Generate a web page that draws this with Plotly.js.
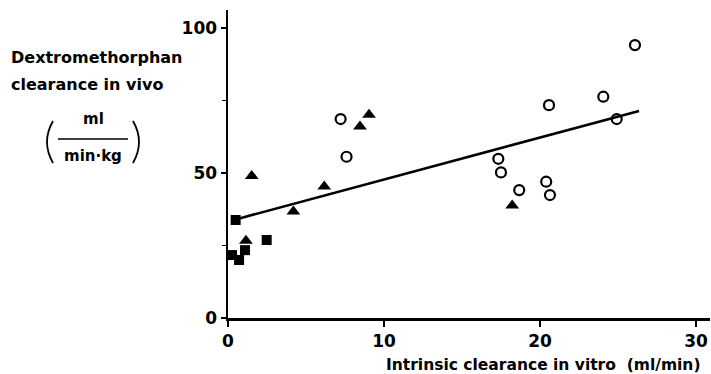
<!DOCTYPE html>
<html>
<head>
<meta charset="utf-8">
<script src="https://cdn.plot.ly/plotly-3.0.1.min.js"></script>
<style>html,body{margin:0;padding:0;background:#fff;}#chart{width:711px;height:374px;}</style>
</head>
<body>
<div id="chart"></div>
<script>
// ---- data ----
var squareX = [0.26, 0.71, 1.09, 2.48, 0.49];
var squareY = [21.7, 20.0, 23.4, 26.9, 33.8];

var triangleX = [1.52, 1.15, 4.19, 6.17, 8.46, 9.04, 18.22];
var triangleY = [49.0, 26.6, 36.7, 45.3, 66.0, 70.1, 38.8];

var circleX = [7.22, 7.60, 17.33, 17.50, 18.67, 20.40, 20.64, 20.58, 24.06, 24.92, 26.09];
var circleY = [68.6, 55.6, 54.9, 50.2, 44.1, 47.0, 42.4, 73.4, 76.3, 68.6, 94.1];

var fitX = [0.5, 26.35];
var fitY = [34.0, 71.4];

var xTickVals = [0, 10, 20, 30];
var yTickVals = [0, 50, 100];
var yMinorVals = [25, 75];

var yTitleLines = ["Dextromethorphan", "clearance in vivo"];
var unitNum = "ml";
var unitDen = "min\u00b7kg";
var xTitle = "Intrinsic clearance in vitro\u00a0\u00a0(ml/min)";

// ---- layout geometry (pixels) ----
var W = 711, H = 374;
var L = 228, R = 710, T = 10, B = 318;
function px(x){ return (x - L) / (R - L); }
function py(y){ return (B - y) / (B - T); }

var fontB = {family: "DejaVu Sans", size: 16, color: "#000", weight: "bold"};
var fontX = {family: "DejaVu Sans", size: 15.5, color: "#000", weight: "bold"};
var fontU = {family: "DejaVu Sans", size: 15, color: "#000", weight: "bold"};
var fontT = {family: "DejaVu Sans", size: 17, color: "#000", weight: "bold"};

var traces = [
  {x: fitX, y: fitY, mode: "lines", type: "scatter",
   line: {color: "#000", width: 2.6}, hoverinfo: "skip"},
  {x: squareX, y: squareY, mode: "markers", type: "scatter",
   marker: {symbol: "square", size: 10, color: "#000"}},
  {x: triangleX, y: triangleY, mode: "markers", type: "scatter",
   marker: {symbol: "triangle-up", size: 12, color: "#000"}},
  {x: circleX, y: circleY, mode: "markers", type: "scatter",
   marker: {symbol: "circle-open", size: 10, color: "#000", line: {width: 2.2, color: "#000"}}}
];

function paren(xTop, xCtrl){
  return "M" + px(xTop) + "," + py(121) + " Q" + px(xCtrl) + "," + py(142) + " " + px(xTop) + "," + py(163);
}

var layout = {
  width: W, height: H,
  margin: {l: L, r: W - R, t: T, b: H - B, pad: 0},
  paper_bgcolor: "#fff", plot_bgcolor: "#fff",
  showlegend: false,
  xaxis: {
    range: [0, 30.9], showgrid: false, zeroline: false,
    showline: true, linecolor: "#000", linewidth: 2.5,
    ticks: "outside", ticklen: 6, tickwidth: 2, tickcolor: "#000",
    tickvals: xTickVals, ticktext: xTickVals.map(String),
    tickfont: fontT
  },
  yaxis: {
    range: [0, 106.2], showgrid: false, zeroline: false,
    showline: true, linecolor: "#000", linewidth: 2.5,
    ticks: "outside", ticklen: 5, tickwidth: 2, tickcolor: "#000",
    tickvals: yTickVals, ticktext: yTickVals.map(String),
    tickfont: fontT,
    minor: {tickvals: yMinorVals, ticks: "outside", ticklen: 4, tickwidth: 1.5, tickcolor: "#000"}
  },
  annotations: [
    {xref: "paper", yref: "paper", x: px(9), y: py(57), xanchor: "left", yanchor: "middle",
     text: yTitleLines[0], showarrow: false, font: fontB},
    {xref: "paper", yref: "paper", x: px(9), y: py(84), xanchor: "left", yanchor: "middle",
     text: yTitleLines[1], showarrow: false, font: fontB},
    {xref: "paper", yref: "paper", x: px(93), y: py(119), xanchor: "center", yanchor: "middle",
     text: unitNum, showarrow: false, font: fontU},
    {xref: "paper", yref: "paper", x: px(93), y: py(156), xanchor: "center", yanchor: "middle",
     text: unitDen, showarrow: false, font: fontU},
    {xref: "paper", yref: "paper", x: px(543), y: py(365), xanchor: "center", yanchor: "middle",
     text: xTitle, showarrow: false, font: fontX}
  ],
  shapes: [
    {type: "line", xref: "paper", yref: "paper", x0: px(58), x1: px(128), y0: py(139), y1: py(139),
     line: {color: "#000", width: 1.6}},
    {type: "path", xref: "paper", yref: "paper", path: paren(53, 41), line: {color: "#000", width: 1.8}},
    {type: "path", xref: "paper", yref: "paper", path: paren(133, 145), line: {color: "#000", width: 1.8}}
  ]
};

Plotly.newPlot("chart", traces, layout, {staticPlot: true, displayModeBar: false});
</script>
</body>
</html>
